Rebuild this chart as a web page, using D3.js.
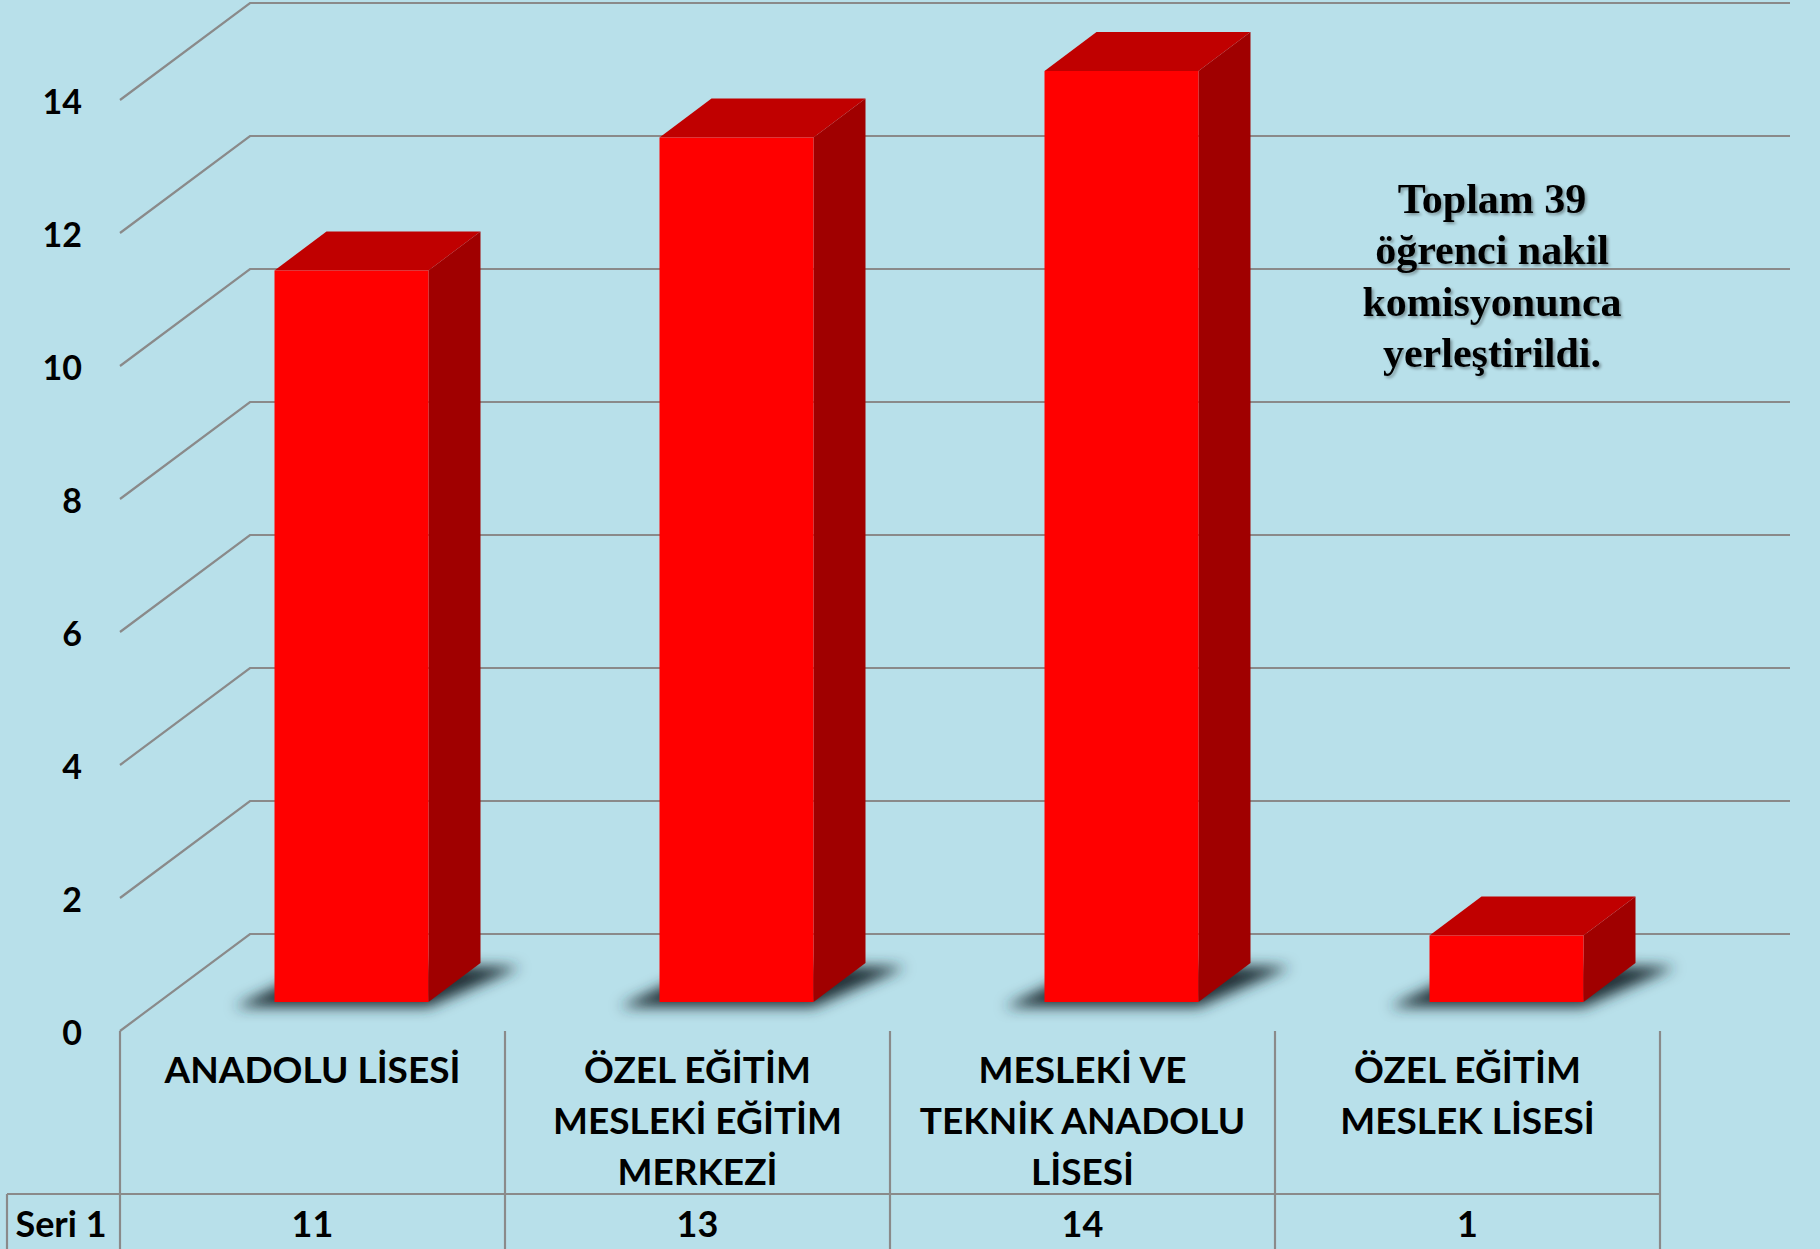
<!DOCTYPE html>
<html>
<head>
<meta charset="utf-8">
<script src="https://cdn.jsdelivr.net/npm/d3@7"></script>
<style>
    body { margin: 0; background: #b8e0ea; }
    svg { display: block; }
</style>
</head>
<body>
<svg id="chart" width="1820" height="1249"></svg>
<script>
const categories = ['ANADOLU LİSESİ', 'ÖZEL EĞİTİM MESLEKİ EĞİTİM MERKEZİ', 'MESLEKİ VE TEKNİK ANADOLU LİSESİ', 'ÖZEL EĞİTİM MESLEK LİSESİ'];
const categoryLines = [
    ['ANADOLU LİSESİ'],
    ['ÖZEL EĞİTİM', 'MESLEKİ EĞİTİM', 'MERKEZİ'],
    ['MESLEKİ VE', 'TEKNİK ANADOLU', 'LİSESİ'],
    ['ÖZEL EĞİTİM', 'MESLEK LİSESİ'],
];
const values = [11, 13, 14, 1];
const seriesName = 'Seri 1';
const yTicks = [0, 2, 4, 6, 8, 10, 12, 14];
const noteLines = ['Toplam 39', 'öğrenci nakil', 'komisyonunca', 'yerleştirildi.'];

const svg = d3.select('#chart');
const H = 1249;

// front plane of the 3d box
const x = d3.scaleBand().domain(categories).range([120, 1660]).padding(0);
const y = d3.scaleLinear().domain([0, 14]).range([1031, 100]);
// depth offset (z from 0 = front to 1 = back wall)
const depthX = d3.scaleLinear().domain([0, 1]).range([0, 130]);
const depthY = d3.scaleLinear().domain([0, 1]).range([0, -97]);
const p = (px, py, z) => [px + depthX(z), py + depthY(z)];
const pts = (arr) => arr.map((d) => d.join(',')).join(' ');

const gridColor = '#8a8a8a';
const defs = svg.append('defs');

defs.append('filter')
    .attr('id', 'blur')
    .attr('x', '-50%').attr('y', '-50%')
    .attr('width', '200%').attr('height', '200%')
    .append('feGaussianBlur')
    .attr('stdDeviation', 7);

defs.append('filter')
    .attr('id', 'txtShadow')
    .append('feDropShadow')
    .attr('dx', 2).attr('dy', 2)
    .attr('stdDeviation', 1.5)
    .attr('flood-color', '#000')
    .attr('flood-opacity', 0.35);

// gridlines: diagonal on the side + horizontal on the back wall
const grid = svg.append('g');
yTicks.forEach((t) => {
    const f = p(x.range()[0], y(t), 0);
    const b = p(x.range()[0], y(t), 1);
    const e = p(x.range()[1], y(t), 1);
    grid.append('polyline')
        .attr('points', pts([f, b, e]))
        .attr('fill', 'none')
        .attr('stroke', gridColor)
        .attr('stroke-width', 2.2);
});

// y tick labels
svg.append('g')
    .selectAll('text')
    .data(yTicks)
    .join('text')
    .attr('x', 82)
    .attr('y', (d) => y(d) + 14)
    .attr('text-anchor', 'end')
    .attr('font-family', 'Lato, sans-serif')
    .attr('font-weight', 'bold')
    .attr('font-size', 34)
    .attr('fill', '#000')
    .text((d) => d);

// bars
const z0 = 0.3;
const z1 = 0.7;
const barW = x.bandwidth() * 0.4;
const bars = categories.map((c, i) => {
    const xl = x(c) + (x.bandwidth() - barW) / 2;
    return { xl, xr: xl + barW, v: values[i] };
});

const shadows = svg.append('g').attr('filter', 'url(#blur)');
bars.forEach((b) => {
    const fl = p(b.xl - 40, y(0) + 5, z0);
    const fr = p(b.xr, y(0) + 5, z0);
    const br = p(b.xr + 40, y(0) + 4, z1);
    const bl = p(b.xl, y(0), z1);
    shadows.append('polygon')
        .attr('points', pts([fl, fr, br, bl]))
        .attr('fill', '#223339');
});

const barG = svg.append('g');
bars.forEach((b) => {
    const ftl = p(b.xl, y(b.v), z0);
    const ftr = p(b.xr, y(b.v), z0);
    const fbl = p(b.xl, y(0), z0);
    const fbr = p(b.xr, y(0), z0);
    const btl = p(b.xl, y(b.v), z1);
    const btr = p(b.xr, y(b.v), z1);
    const bbr = p(b.xr, y(0), z1);
    barG.append('polygon').attr('points', pts([ftr, btr, bbr, fbr])).attr('fill', '#a00000');
    barG.append('polygon').attr('points', pts([ftl, btl, btr, ftr])).attr('fill', '#c00000');
    barG.append('polygon').attr('points', pts([ftl, ftr, fbr, fbl])).attr('fill', '#ff0000');
});

// data table
const table = svg.append('g')
    .attr('stroke', gridColor)
    .attr('stroke-width', 2.2);
const edges = categories.map((c) => x(c)).concat([x.range()[1]]);
edges.forEach((ex) => {
    table.append('line')
        .attr('x1', ex).attr('x2', ex)
        .attr('y1', y(0)).attr('y2', H);
});
table.append('line')
    .attr('x1', 7).attr('x2', x.range()[1])
    .attr('y1', 1194).attr('y2', 1194);
table.append('line')
    .attr('x1', 7).attr('x2', 7)
    .attr('y1', 1194).attr('y2', H);

const labels = svg.append('g')
    .attr('font-family', 'Lato, sans-serif')
    .attr('font-weight', 'bold')
    .attr('fill', '#000')
    .attr('text-anchor', 'middle');

categoryLines.forEach((lines, i) => {
    lines.forEach((line, j) => {
        labels.append('text')
            .attr('x', x(categories[i]) + x.bandwidth() / 2)
            .attr('y', 1083 + j * 51)
            .attr('font-size', 37)
            .text(line);
    });
    labels.append('text')
        .attr('x', x(categories[i]) + x.bandwidth() / 2)
        .attr('y', 1237)
        .attr('font-size', 36)
        .text(values[i]);
});

labels.append('text')
    .attr('x', 61)
    .attr('y', 1237)
    .attr('font-size', 36)
    .text(seriesName);

// note
svg.append('g')
    .attr('filter', 'url(#txtShadow)')
    .selectAll('text')
    .data(noteLines)
    .join('text')
    .attr('x', 1492)
    .attr('y', (d, i) => 213 + i * 51.3)
    .attr('text-anchor', 'middle')
    .attr('font-family', '"Liberation Serif", "Times New Roman", serif')
    .attr('font-weight', 'bold')
    .attr('font-size', 42)
    .attr('fill', '#000')
    .text((d) => d);
</script>
</body>
</html>
